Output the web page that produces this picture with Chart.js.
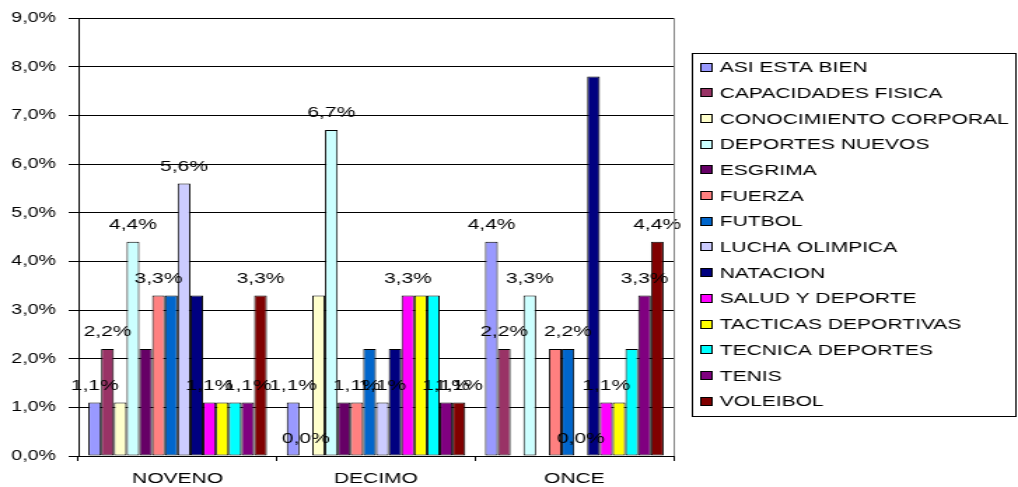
<!DOCTYPE html>
<html><head><meta charset="utf-8">
<script src="https://cdn.jsdelivr.net/npm/chart.js@4.4.0/dist/chart.umd.min.js"></script>
<style>
html,body{margin:0;padding:0;background:#fff;overflow:hidden;}
#wrap{width:727px;height:487px;transform:scaleX(1.40028);transform-origin:0 0;}
canvas{display:block;}
</style></head><body>
<div id="wrap"><canvas id="c" width="727" height="487"></canvas></div>
<script>
// ---- data ----
const categories = ['NOVENO', 'DECIMO', 'ONCE'];
const seriesNames = ['ASI ESTA BIEN', 'CAPACIDADES FISICA', 'CONOCIMIENTO CORPORAL', 'DEPORTES NUEVOS',
  'ESGRIMA', 'FUERZA', 'FUTBOL', 'LUCHA OLIMPICA', 'NATACION', 'SALUD Y DEPORTE',
  'TACTICAS DEPORTIVAS', 'TECNICA DEPORTES', 'TENIS', 'VOLEIBOL'];
const asiEstaBien = [1.1, 1.1, 4.4];
const capacidadesFisica = [2.2, 0.0, 2.2];
const conocimientoCorporal = [1.1, 3.3, 0.0];
const deportesNuevos = [4.4, 6.7, 3.3];
const esgrima = [2.2, 1.1, 0.0];
const fuerza = [3.3, 1.1, 2.2];
const futbol = [3.3, 2.2, 2.2];
const luchaOlimpica = [5.6, 1.1, 0.0];
const natacion = [3.3, 2.2, 7.8];
const saludYDeporte = [1.1, 3.3, 1.1];
const tacticasDeportivas = [1.1, 3.3, 1.1];
const tecnicaDeportes = [1.1, 3.3, 2.2];
const tenis = [1.1, 1.1, 3.3];
const voleibol = [3.3, 1.1, 4.4];
const yTicks = [0, 1, 2, 3, 4, 5, 6, 7, 8, 9];
// [seriesIndex, categoryIndex] of the bars whose value label is visible
const labelledBars = [
  [0,0],[1,0],[3,0],[5,0],[7,0],[9,0],[12,0],[13,0],
  [0,1],[1,1],[3,1],[5,1],[7,1],[9,1],[12,1],[13,1],
  [0,2],[1,2],[3,2],[6,2],[7,2],[9,2],[12,2],[13,2]
];

const seriesValues = [asiEstaBien, capacidadesFisica, conocimientoCorporal, deportesNuevos, esgrima,
  fuerza, futbol, luchaOlimpica, natacion, saludYDeporte, tacticasDeportivas, tecnicaDeportes, tenis, voleibol];
const seriesColors = ['#9999FF', '#993366', '#FFFFCC', '#CCFFFF', '#660066', '#FF8080', '#0066CC',
  '#CCCCFF', '#000080', '#FF00FF', '#FFFF00', '#00FFFF', '#800080', '#800000'];

const FONT = "'Liberation Sans', Arial, sans-serif";
const fmt = v => v.toFixed(1).replace('.', ',') + '%';

const datasets = seriesNames.map((n, i) => ({
  label: n,
  data: seriesValues[i],
  backgroundColor: seriesColors[i],
  borderColor: '#000',
  borderWidth: 1,
  borderSkipped: false,
  categoryPercentage: 0.9,
  barPercentage: 1.0
}));

const valueLabels = {
  id: 'valueLabels',
  afterDatasetsDraw(chart) {
    const ctx = chart.ctx;
    ctx.save();
    ctx.font = '15px ' + FONT;
    ctx.fillStyle = '#000';
    ctx.textAlign = 'center';
    ctx.textBaseline = 'middle';
    labelledBars.forEach(([s, c]) => {
      const el = chart.getDatasetMeta(s).data[c];
      ctx.fillText(fmt(seriesValues[s][c]), el.x, el.y - 17);
    });
    ctx.restore();
  }
};

const frameAndLegend = {
  id: 'frameAndLegend',
  afterDraw(chart) {
    const ctx = chart.ctx;
    const a = chart.chartArea;
    ctx.save();
    // plot area right border
    ctx.strokeStyle = '#808080';
    ctx.lineWidth = 1;
    ctx.beginPath();
    ctx.moveTo(Math.round(a.right) + 0.5, a.top);
    ctx.lineTo(Math.round(a.right) + 0.5, a.bottom);
    ctx.stroke();
    // legend box
    const lx = 494.5, ly = 53.5, lw = 231, lh = 363;
    ctx.strokeStyle = '#000';
    ctx.strokeRect(lx, ly, lw, lh);
    ctx.font = '15px ' + FONT;
    ctx.textBaseline = 'middle';
    ctx.textAlign = 'left';
    seriesNames.forEach((n, i) => {
      const cy = 67 + i * 25.7;
      ctx.fillStyle = seriesColors[i];
      ctx.fillRect(500.5, Math.round(cy - 4.5) + 0.5, 8, 8);
      ctx.strokeStyle = '#000';
      ctx.strokeRect(500.5, Math.round(cy - 4.5) + 0.5, 8, 8);
      ctx.fillStyle = '#000';
      ctx.fillText(n, 514, cy + 1);
    });
    ctx.restore();
  }
};

new Chart(document.getElementById('c'), {
  type: 'bar',
  data: { labels: categories, datasets },
  options: {
    responsive: false,
    animation: false,
    devicePixelRatio: 1,
    layout: { padding: { left: 0, right: 246, top: 18, bottom: 0 } },
    plugins: { legend: { display: false }, tooltip: { enabled: false } },
    scales: {
      x: {
        grid: { display: true, drawOnChartArea: false, drawTicks: true, tickLength: 5, color: '#000', offset: true },
        border: { display: true, color: '#000' },
        ticks: { color: '#000', font: { family: FONT, size: 15 }, padding: 9 },
        afterFit(s) { s.height = 31; }
      },
      y: {
        min: yTicks[0], max: yTicks[yTicks.length - 1],
        afterBuildTicks(s) { s.ticks = yTicks.map(v => ({ value: v })); },
        grid: { color: '#000', tickLength: 7 },
        border: { display: true, color: '#000' },
        ticks: { color: '#000', font: { family: FONT, size: 14 }, padding: 9, callback: v => fmt(v) },
        afterFit(s) { s.width = 56; }
      }
    }
  },
  plugins: [valueLabels, frameAndLegend]
});
</script>
</body></html>
